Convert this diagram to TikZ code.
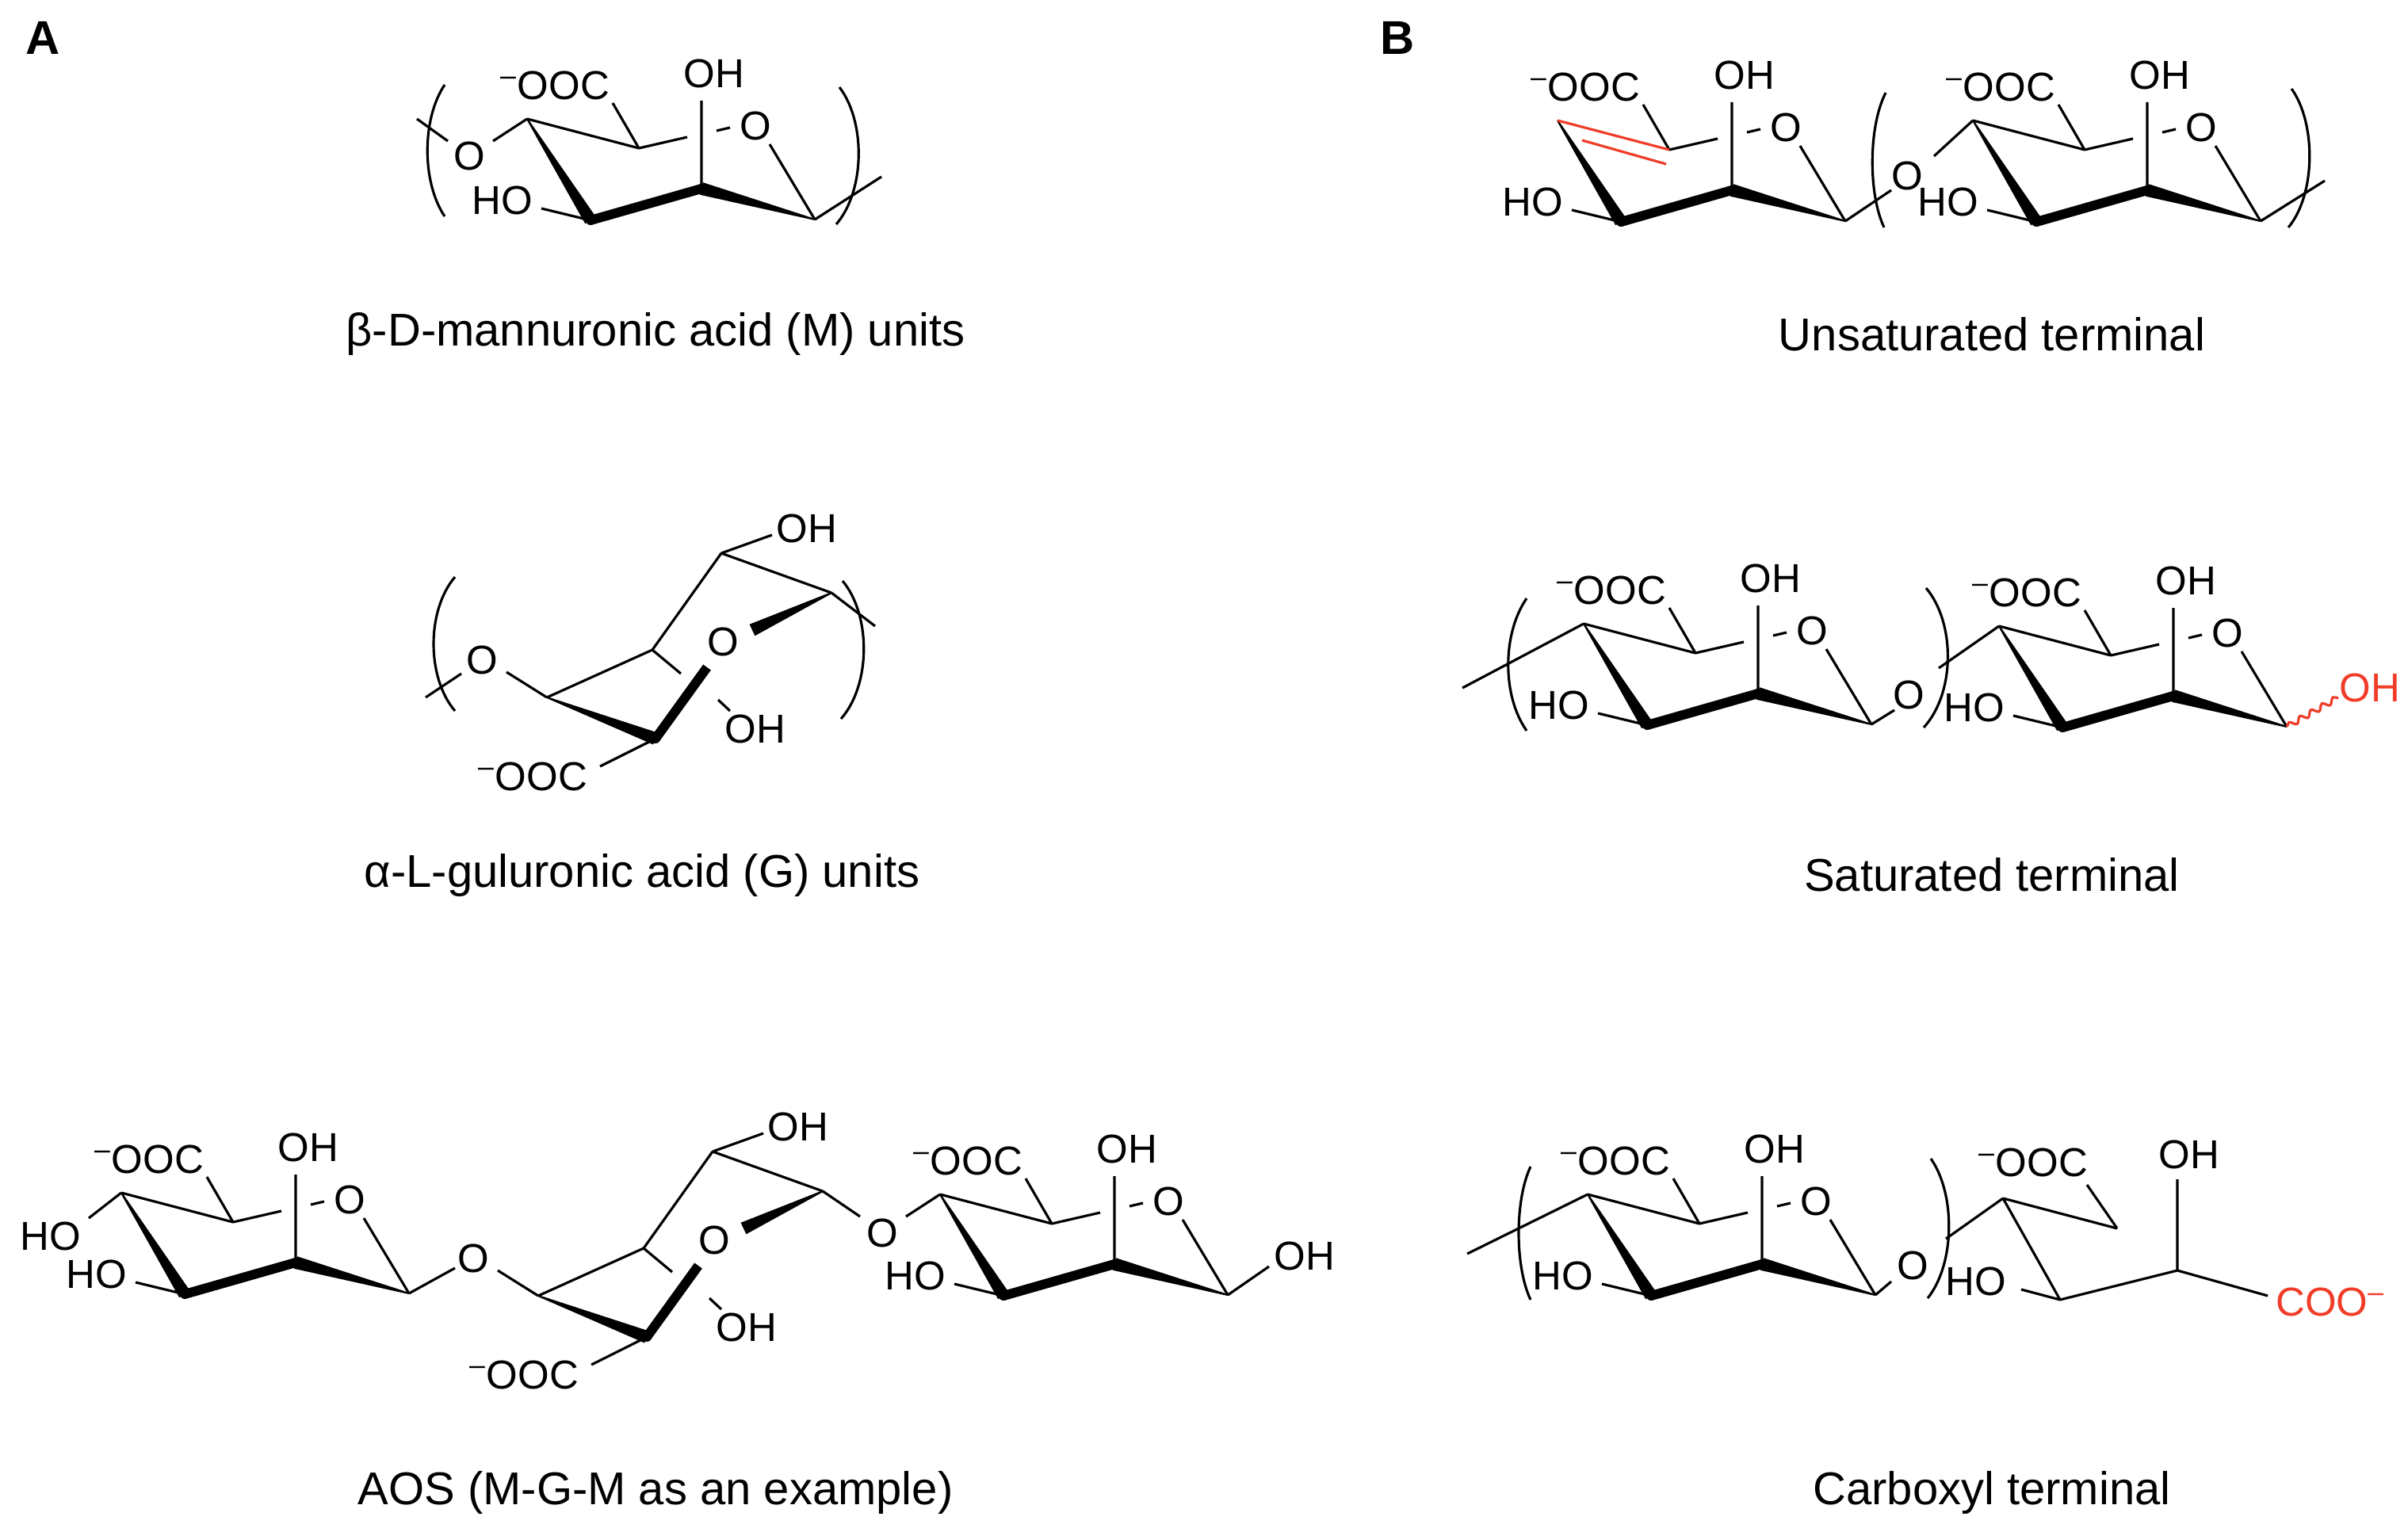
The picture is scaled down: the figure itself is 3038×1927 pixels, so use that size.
\documentclass[tikz,border=0pt]{standalone}
\usepackage{fontspec}
\setmainfont{Liberation Sans}
\usetikzlibrary{calc,decorations.pathmorphing}
\definecolor{chemred}{RGB}{240,60,40}
\tikzset{
  bond/.style={line width=0.9pt},
  atom/.style={inner sep=0pt, font=\fontsize{14.5}{16}\selectfont},
  caption/.style={inner sep=0pt, font=\fontsize{16.5}{19}\selectfont},
  panel/.style={inner sep=0pt, font=\fontsize{17}{20}\selectfont\bfseries}
}
\newcommand{\wdg}[4]{%
  \fill ($(#1)!#3!90:(#2)$) -- ($(#2)!#4!-90:(#1)$) -- ($(#2)!#4!90:(#1)$) -- ($(#1)!#3!-90:(#2)$) -- cycle;}
\newcommand{\Mcore}[1]{%
  \coordinate (#1c4) at (0,0);
  \coordinate (#1c5) at (141,37);
  \coordinate (#1c5b) at (202,23);
  \coordinate (#1o5a) at (239,15);
  \coordinate (#1o5d) at (256,11);
  \coordinate (#1o5c) at (306,32);
  \coordinate (#1c2) at (220,88);
  \coordinate (#1c2t) at (220,-23);
  \coordinate (#1c1) at (363,127);
  \coordinate (#1c3) at (80,128);
  \coordinate (#1coo) at (108,-20);
  \coordinate (#1hoe) at (18,113);
  \node[atom] (#1O5) at (288,9) {O};
  \node[atom] (#1OH) at (236,-57) {OH};
  \node[atom] (#1OOC) at (35,-42) {\textsuperscript{–}OOC};
  \node[atom] (#1HO) at (-31,103) {HO};
  \draw[bond] (#1c5)--(#1c5b) (#1o5a)--(#1o5d) (#1o5c)--(#1c1) (#1c2)--(#1c2t) (#1c5)--(#1coo) (#1c3)--(#1hoe);
  \wdg{#1c4}{#1c3}{0.1mm}{0.8mm}
  \wdg{#1c3}{#1c2}{0.6mm}{0.6mm}
  \wdg{#1c1}{#1c2}{0.1mm}{0.8mm}
  \fill (#1c3) circle (0.6mm) (#1c2) circle (0.6mm);
}
\newcommand{\Gcore}[1]{%
  \coordinate (#1c4) at (0,0);
  \coordinate (#1x) at (133,-60);
  \coordinate (#1c5) at (220,-182);
  \coordinate (#1c1) at (359,-132);
  \coordinate (#1ohe) at (284,-205);
  \coordinate (#1ee) at (169,-30);
  \coordinate (#1wo) at (259,-85);
  \coordinate (#1c3) at (137,52);
  \coordinate (#1c2) at (202,-38);
  \coordinate (#1i1) at (216,3);
  \coordinate (#1i2) at (231,17);
  \coordinate (#1jj) at (67,87);
  \coordinate (#1kk) at (-51,-32);
  \node[atom] (#1OH) at (328,-213) {OH};
  \node[atom] (#1O5) at (222,-70) {O};
  \node[atom] (#1OHb) at (263,40) {OH};
  \node[atom] (#1OOC) at (-18,100) {\textsuperscript{–}OOC};
  \node[atom] (#1O) at (-82,-47) {O};
  \draw[bond] (#1c4)--(#1x) (#1x)--(#1c5) (#1c5)--(#1c1) (#1c5)--(#1ohe) (#1x)--(#1ee) (#1i1)--(#1i2) (#1c3)--(#1jj) (#1c4)--(#1kk);
  \wdg{#1c1}{#1wo}{0.1mm}{0.8mm}
  \wdg{#1c4}{#1c3}{0.1mm}{0.8mm}
  \wdg{#1c3}{#1c2}{0.6mm}{0.6mm}
  \fill (#1c3) circle (0.6mm);
}
\begin{document}
\begin{tikzpicture}[x=0.1mm,y=-0.1mm]
\useasboundingbox (0,0) rectangle (3038,1927);
\node[panel] (lA) at (54,48) {A};
\node[panel] (lB) at (1763,48) {B};

% ---- A: M unit
\begin{scope}[shift={(665,150)}]
  \Mcore{ma}
  \draw[bond] (mac4)--(mac5);
  \coordinate (maoe) at (-43,28);
  \node[atom] (maO) at (-73,47) {O};
  \coordinate (maoa) at (-100,28);
  \coordinate (maob) at (-139,0);
  \coordinate (mare) at (447,73);
  \draw[bond] (mac4)--(maoe) (maoa)--(maob) (mac1)--(mare);
  \draw[bond] (-104,-43) .. controls (-133,0) and (-133,80) .. (-104,123);
  \draw[bond] (394,-40) .. controls (427,3) and (427,90) .. (390,133);
\end{scope}
\node[caption] (capM) at (827,422) {β-D-mannuronic acid (M) units};

% ---- A: G unit
\begin{scope}[shift={(690,880)}]
  \Gcore{ga}
  \coordinate (gala) at (-108,-30);
  \coordinate (galb) at (-153,0);
  \coordinate (gare) at (414,-90);
  \draw[bond] (gala)--(galb) (gac1)--(gare);
  \draw[bond] (-116,-152) .. controls (-152,-110) and (-152,-25) .. (-116,17);
  \draw[bond] (373,-147) .. controls (409,-104) and (409,-16) .. (371,27);
\end{scope}
\node[caption] (capG) at (810,1104) {α-L-guluronic acid (G) units};

% ---- A: AOS
\begin{scope}[shift={(153,1505)}]
  \Mcore{m1}
  \draw[bond] (m1c4)--(m1c5);
  \coordinate (m1he) at (-41,32);
  \node[atom] (m1HOa) at (-89,55) {HO};
  \draw[bond] (m1c4)--(m1he);
\end{scope}
\begin{scope}[shift={(679,1635)}]
  \Gcore{g2}
\end{scope}
\begin{scope}[shift={(1186,1507)}]
  \Mcore{m3}
  \draw[bond] (m3c4)--(m3c5);
  \coordinate (m3oe) at (-43,28);
  \node[atom] (m3O) at (-73,49) {O};
  \draw[bond] (m3c4)--(m3oe);
\end{scope}
\coordinate (l1) at (574,1600);
\coordinate (l2) at (1085,1535);
\coordinate (l3) at (1601,1598);
\node[atom] (m3OHa) at (1646,1585) {OH};
\draw[bond] (m1c1)--(l1) (g2c1)--(l2) (m3c1)--(l3);
\node[caption] (capA) at (827,1883) {AOS (M-G-M as an example)};

% ---- B: unsaturated
\begin{scope}[shift={(1965,152)}]
  \Mcore{t1}
  \coordinate (t1da) at (31,25);
  \coordinate (t1db) at (137,55);
  \draw[bond,chemred] (t1c4)--(t1c5) (t1da)--(t1db);
\end{scope}
\begin{scope}[shift={(2489,152)}]
  \Mcore{t2}
  \draw[bond] (t2c4)--(t2c5);
\end{scope}
\coordinate (t1l) at (2386,240);
\node[atom] (tO) at (2406,222) {O};
\coordinate (t2l) at (2440,197);
\coordinate (t2re) at (2933,228);
\draw[bond] (t1c1)--(t1l) (t2l)--(t2c4) (t2c1)--(t2re);
\draw[bond] (2379,117) .. controls (2357,160) and (2357,245) .. (2377,287);
\draw[bond] (2891,112) .. controls (2922,155) and (2922,245) .. (2887,287);
\node[caption] (capU) at (2513,422) {Unsaturated terminal};

% ---- B: saturated
\begin{scope}[shift={(1998,787)}]
  \Mcore{s1}
  \draw[bond] (s1c4)--(s1c5);
\end{scope}
\begin{scope}[shift={(2522,790)}]
  \Mcore{s2}
  \draw[bond] (s2c4)--(s2c5);
\end{scope}
\coordinate (s1le) at (1845,868);
\coordinate (s1l) at (2390,896);
\node[atom] (sO) at (2408,877) {O};
\coordinate (s2l) at (2446,843);
\coordinate (s2w) at (2950,880);
\node[atom,text=chemred] (sOH) at (2990,868) {OH};
\draw[bond] (s1c4)--(s1le) (s1c1)--(s1l) (s2l)--(s2c4);
\draw[bond,chemred,decorate,decoration={snake,amplitude=0.35mm,segment length=1.6mm}] (s2c1)--(s2w);
\draw[bond] (1926,755) .. controls (1895,800) and (1895,878) .. (1926,922);
\draw[bond] (2430,742) .. controls (2467,786) and (2467,874) .. (2427,918);
\node[caption] (capS) at (2513,1104) {Saturated terminal};

% ---- B: carboxyl
\begin{scope}[shift={(2003,1507)}]
  \Mcore{b1}
  \draw[bond] (b1c4)--(b1c5);
\end{scope}
\coordinate (b1le) at (1851,1582);
\coordinate (b1l) at (2386,1617);
\node[atom] (bO) at (2413,1597) {O};
\coordinate (b2l) at (2455,1563);
\coordinate (b2c4) at (2527,1512);
\coordinate (b2c5) at (2671,1550);
\coordinate (b2coo) at (2633,1495);
\coordinate (b2c3) at (2599,1640);
\coordinate (b2hoe) at (2550,1627);
\coordinate (b2c2) at (2747,1603);
\coordinate (b2c2t) at (2747,1488);
\coordinate (b2cc) at (2861,1635);
\node[atom] (b2OOC) at (2565,1467) {\textsuperscript{–}OOC};
\node[atom] (b2HO) at (2493,1617) {HO};
\node[atom] (b2OH) at (2762,1457) {OH};
\node[atom,text=chemred] (b2COO) at (2940,1643) {COO\textsuperscript{–}};
\draw[bond] (b1c4)--(b1le) (b1c1)--(b1l) (b2l)--(b2c4)
  (b2c4)--(b2c5) (b2c5)--(b2coo) (b2c4)--(b2c3) (b2c3)--(b2hoe) (b2c3)--(b2c2) (b2c2)--(b2c2t) (b2c2)--(b2cc);
\draw[bond] (1931,1472) .. controls (1911,1514) and (1911,1598) .. (1931,1640);
\draw[bond] (2436,1462) .. controls (2467,1506) and (2467,1594) .. (2432,1638);
\node[caption] (capC) at (2513,1883) {Carboxyl terminal};
\end{tikzpicture}
\end{document}
